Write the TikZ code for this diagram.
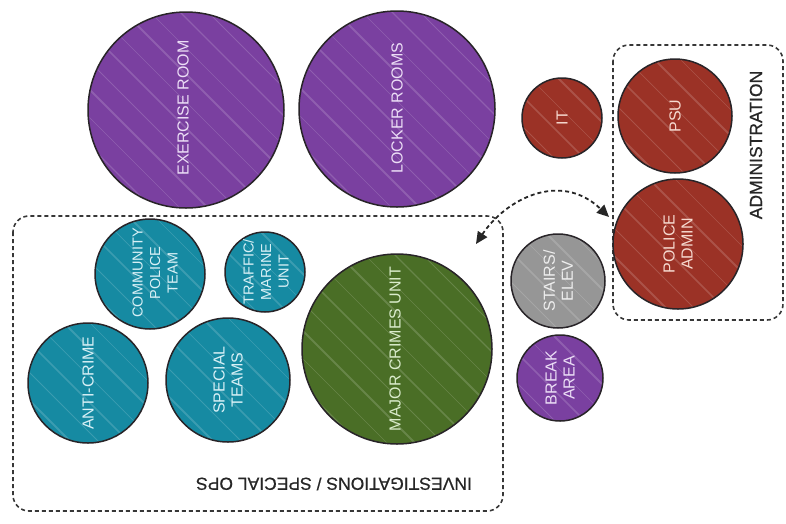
\documentclass[tikz,border=0pt]{standalone}
\usepackage{fontspec}
\newfontfamily\lblfamily{Liberation Sans}
\newfontfamily\grpfamily[FakeBold=0.6]{Liberation Sans}
\usetikzlibrary{arrows.meta}
\definecolor{purp}{RGB}{122,64,160}
\definecolor{rust}{RGB}{155,50,38}
\definecolor{tealc}{RGB}{22,138,162}
\definecolor{grn}{RGB}{74,110,38}
\definecolor{gry}{RGB}{150,150,150}
\definecolor{outl}{RGB}{40,36,40}
\definecolor{boxc}{RGB}{55,55,55}
\definecolor{tpurp}{RGB}{236,222,246}
\definecolor{trust}{RGB}{246,218,208}
\definecolor{tteal}{RGB}{216,240,246}
\definecolor{tgrn}{RGB}{218,236,204}
\definecolor{tgry}{RGB}{238,238,238}
\tikzset{
  streaks/.style={path picture={
    \foreach \s/\w in {-66/1.2,-52/0.6,-38/2,-24/0.8,-9/1.5,4/0.7,18/1.8,31/0.6,46/1.2,60/0.8,72/1.4}{
      \draw[white, opacity=0.16, line width=\w pt]
        ([shift={(\s pt,\s pt)}]path picture bounding box.center) ++(-160pt,160pt) -- ++(320pt,-320pt);
    }}},
  circ/.style={circle, draw=outl, line width=1.5pt, inner sep=0pt, streaks},
  lbl/.style={font=\lblfamily\fontsize{16}{18}\selectfont, align=center, rotate=90, inner sep=0pt},
  small/.style={font=\lblfamily\fontsize{14.5}{17.5}\selectfont},
  grp/.style={draw=boxc, line width=1.6pt, dash pattern=on 4pt off 3pt, rounded corners=16pt},
  grplbl/.style={font=\grpfamily\fontsize{17.5}{20}\selectfont, text=black!85, inner sep=0pt},
  link/.style={draw=black!85, line width=1.8pt, dash pattern=on 4pt off 3pt,
    {Triangle[length=12pt,width=11pt]}-{Triangle[length=12pt,width=11pt]}},
}
\begin{document}
\begin{tikzpicture}[x=1pt,y=-1pt]
\useasboundingbox (0,0) rectangle (786,523);

% group boxes
\draw[grp] (613,45) rectangle (783,320);
\draw[grp] (13,216) rectangle (503,511);
\node[grplbl, rotate=90] (admL) at (756,145) {ADMINISTRATION};
\node[grplbl, rotate=180] (invL) at (334,484) {INVESTIGATIONS / SPECIAL OPS};

% circles
\node[circ, fill=purp, minimum size=196pt] (ex) at (186,110) {};
\node[circ, fill=purp, minimum size=196pt] (lk) at (397,109) {};
\node[circ, fill=rust, minimum size=80pt] (it) at (562,118) {};
\node[circ, fill=rust, minimum size=114pt] (psu) at (675,116) {};
\node[circ, fill=rust, minimum size=130pt] (pa) at (678,244) {};
\node[circ, fill=gry, minimum size=94pt] (st) at (558,281) {};
\node[circ, fill=purp, minimum size=86pt] (br) at (560,378) {};
\node[circ, fill=grn, minimum size=190pt] (mc) at (397,349) {};
\node[circ, fill=tealc, minimum size=110pt] (cp) at (150,274) {};
\node[circ, fill=tealc, minimum size=80pt] (tm) at (265,272) {};
\node[circ, fill=tealc, minimum size=120pt] (ac) at (88,383) {};
\node[circ, fill=tealc, minimum size=124pt] (stm) at (228,380) {};

% labels
\node[lbl, text=tpurp] (exT) at (183,108) {EXERCISE ROOM};
\node[lbl, text=tpurp] (lkT) at (397,108) {LOCKER ROOMS};
\node[lbl, text=trust] (itT) at (it) {IT};
\node[lbl, text=trust] (psuT) at (psu) {PSU};
\node[lbl, text=trust] (paT) at (pa) {POLICE\\ADMIN};
\node[lbl, text=tgry] (stT) at (st) {STAIRS/\\ELEV};
\node[lbl, text=tpurp] (brT) at (br) {BREAK\\AREA};
\node[lbl, text=tgrn] (mcT) at (395,349) {MAJOR CRIMES UNIT};
\node[lbl, small, text=tteal] (cpT) at (155,273) {COMMUNITY\\POLICE\\TEAM};
\node[lbl, small, text=tteal] (tmT) at (266,272) {TRAFFIC/\\MARINE\\UNIT};
\node[lbl, text=tteal] (acT) at (ac) {ANTI-CRIME};
\node[lbl, text=tteal] (stmT) at (stm) {SPECIAL\\TEAMS};

% connector between groups
\coordinate (aL) at (476,244);
\coordinate (aR) at (609,217);
\draw[link] (aL) .. controls (505,200) and (560,170) .. (aR);
\end{tikzpicture}
\end{document}
